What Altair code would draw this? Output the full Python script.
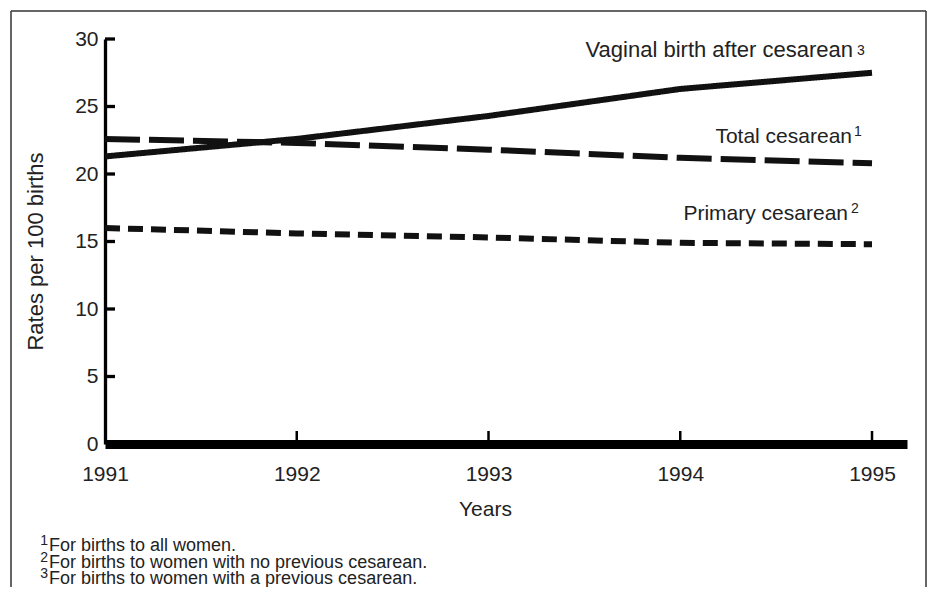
import altair as alt
import pandas as pd

# ---- data ----
years = [1991, 1992, 1993, 1994, 1995]
vbac = [21.3, 22.6, 24.3, 26.3, 27.5]
total_cesarean = [22.6, 22.3, 21.8, 21.2, 20.8]
primary_cesarean = [16.0, 15.6, 15.3, 14.9, 14.8]

series_names = ["Total cesarean", "Primary cesarean", "Vaginal birth after cesarean"]
series_notes = ["1", "2", "3"]
y_ticks = [0, 5, 10, 15, 20, 25, 30]
footnote_marks = ["1", "2", "3"]
footnotes = [
    "For births to all women.",
    "For births to women with no previous cesarean.",
    "For births to women with a previous cesarean.",
]

# ---- styles ----
FONT = "Liberation Sans"
TXT = "#222"
W, H = 802, 405
dashes = {"Total cesarean": [35, 9], "Primary cesarean": [15, 8], "Vaginal birth after cesarean": [1, 0]}
# (font size, dx main, dy main, dx sup, dy sup)
label_style = {
    "Total cesarean": (21, -20, -20, -18, -27),
    "Primary cesarean": (21, -24, -24, -21, -31),
    "Vaginal birth after cesarean": (22, -19, -16, -15, -18),
}
footnote_y = [512, 529, 545]

values = {"Total cesarean": total_cesarean, "Primary cesarean": primary_cesarean,
          "Vaginal birth after cesarean": vbac}

x_scale = alt.Scale(domain=[1991, 1995.1825], nice=False, zero=False)
y_scale = alt.Scale(domain=[0, 30], nice=False)

x_axis = alt.Axis(values=years, format="d", title="Years", ticks=False, grid=False,
                  domainColor="black", domainWidth=9, labelFont=FONT, labelFontSize=21,
                  labelColor=TXT, labelPadding=19, labelFlush=False,
                  titleFont=FONT, titleFontSize=21, titleFontWeight="normal", titleColor=TXT,
                  titleX=380, titleY=71, titleBaseline="alphabetic", titleAlign="center")
y_axis = alt.Axis(values=y_ticks, title="Rates per 100 births", ticks=False, grid=False,
                  domainColor="black", domainWidth=3.3, labelFont=FONT, labelFontSize=21,
                  labelColor=TXT, labelPadding=7, labelFlush=False,
                  titleFont=FONT, titleFontSize=22, titleFontWeight="normal", titleColor=TXT,
                  titleX=-63, titleY=212, titleBaseline="alphabetic", titleAngle=270,
                  titleAlign="center")


def X(field="year"):
    return alt.X(f"{field}:Q", scale=x_scale, axis=x_axis)


def Y(field="value"):
    return alt.Y(f"{field}:Q", scale=y_scale, axis=y_axis)


layers = []

# frame around the figure (decoration)
frame = pd.DataFrame({"k": [0]})
layers.append(alt.Chart(frame).mark_rule(color="#333", strokeWidth=1.5).encode(
    x=alt.value(-94), y=alt.value(-28), y2=alt.value(600)))
layers.append(alt.Chart(frame).mark_rule(color="#333", strokeWidth=1.5).encode(
    x=alt.value(-94), x2=alt.value(821), y=alt.value(-28)))
layers.append(alt.Chart(frame).mark_rule(color="#333", strokeWidth=1.5).encode(
    x=alt.value(821), y=alt.value(-28), y2=alt.value(600)))

# inward ticks on y axis
ytick_df = pd.DataFrame({"value": y_ticks[1:]})
layers.append(alt.Chart(ytick_df).mark_rule(color="black", strokeWidth=3.3).encode(
    x=alt.value(0), x2=alt.value(10), y=Y()))
# inward ticks on x axis
xtick_df = pd.DataFrame({"year": years[1:]})
layers.append(alt.Chart(xtick_df).mark_rule(color="black", strokeWidth=2.5).encode(
    x=X(), y=alt.value(H - 13), y2=alt.value(H)))

# series lines (dashed first, solid on top) with end labels
for name, note in zip(series_names, series_notes):
    df = pd.DataFrame({"year": years, "value": values[name]})
    layers.append(alt.Chart(df).mark_line(color="#111", strokeWidth=6, strokeCap="butt",
                                          strokeDash=dashes[name], clip=False).encode(
        x=X(), y=Y()))
    fs, dxm, dym, dxs, dys = label_style[name]
    ldf = pd.DataFrame({"year": [years[-1]], "value": [values[name][-1]],
                        "label": [name], "note": [note]})
    layers.append(alt.Chart(ldf).mark_text(font=FONT, fontSize=fs, color=TXT, align="right",
                                           baseline="alphabetic", dx=dxm, dy=dym).encode(
        x=X(), y=Y(), text="label:N"))
    layers.append(alt.Chart(ldf).mark_text(font=FONT, fontSize=14, color=TXT, align="left",
                                           baseline="alphabetic", dx=dxs, dy=dys).encode(
        x=X(), y=Y(), text="note:N"))

# footnotes
for mk, txt, fy in zip(footnote_marks, footnotes, footnote_y):
    fdf = pd.DataFrame({"text": [txt], "mark": [mk]})
    layers.append(alt.Chart(fdf).mark_text(font=FONT, fontSize=14, color=TXT, align="right",
                                           baseline="alphabetic").encode(
        x=alt.value(-57), y=alt.value(fy - 6), text="mark:N"))
    layers.append(alt.Chart(fdf).mark_text(font=FONT, fontSize=18, color=TXT, align="left",
                                           baseline="alphabetic").encode(
        x=alt.value(-56), y=alt.value(fy), text="text:N"))

chart = alt.layer(*layers).properties(
    width=W, height=H,
    autosize=alt.AutoSizeParams(type="none"),
    padding={"left": 97, "top": 31, "right": 20, "bottom": 143},
    background="white",
).configure_view(stroke=None)

chart.save("out.html", embed_options={"renderer": "svg", "actions": False})
